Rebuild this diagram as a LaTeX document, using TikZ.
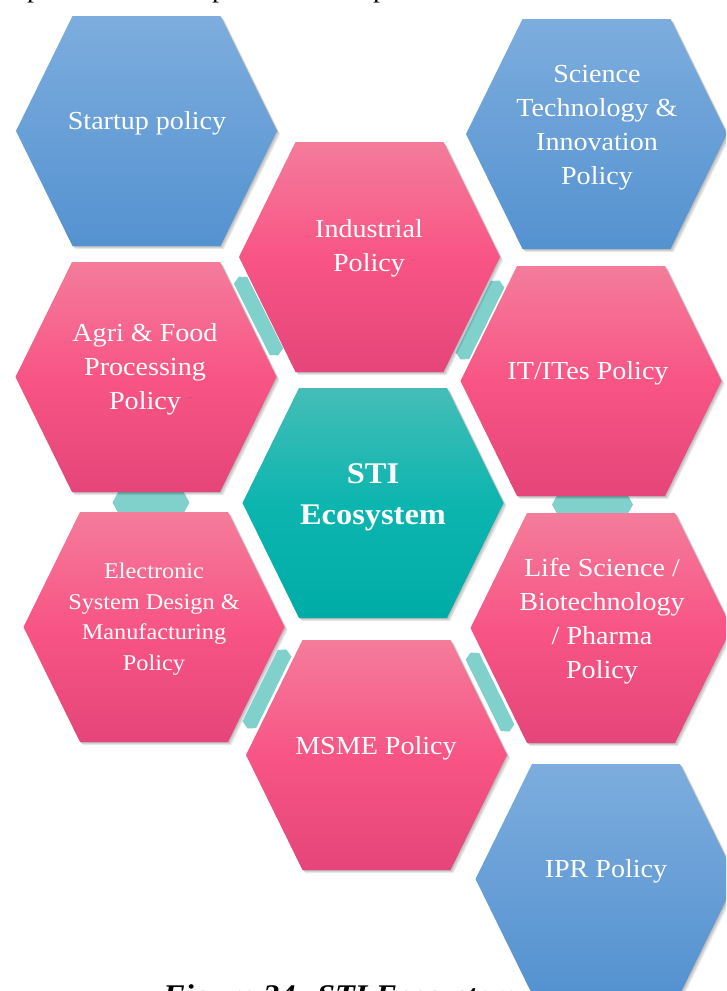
\documentclass[tikz,border=0pt]{standalone}
\usepackage{fontspec}
\setmainfont{Liberation Serif}[FakeStretch=1.08]
\definecolor{blueTop}{HTML}{7DADDE}
\definecolor{blueBot}{HTML}{5492D0}
\definecolor{pinkTop}{HTML}{F47C9B}
\definecolor{pinkMid}{HTML}{F85585}
\definecolor{pinkBot}{HTML}{E5457A}
\definecolor{tealTop}{HTML}{45BDB7}
\definecolor{tealMid}{HTML}{0DB5AF}
\definecolor{tealBot}{HTML}{00ACA7}
\definecolor{linkTeal}{HTML}{80D0CC}
\newcommand\hexshape{(-130.5,0) -- (-74,-115) -- (74,-115) -- (130.5,0) -- (74,115) -- (-74,115) -- cycle}
% hexagon cell: style, centre x, centre y
\newcommand\hexcell[3]{%
  \foreach \k in {0.8,1.6,2.4,3.2}{\fill[softshadow, shift={(#2+\k,#3-\k)}] (-130.5,0) -- (-74,-115) -- (74,-115) -- (130.5,0) -- (74,115) -- (-74,115) -- cycle;}%
  \path[#1, shift={(#2,#3)}] (-130.5,0) -- (-74,-115) -- (74,-115) -- (130.5,0) -- (74,115) -- (-74,115) -- cycle;}
% connector bar: centre x, centre y, angle, half length, half thickness
\newcommand\linkbar[5]{\path[linkcell, shift={(#1,#2)}, rotate=#3] (-#4,0) -- (-#4+0.55*#5,#5) -- (#4-0.55*#5,#5) -- (#4,0) -- (#4-0.55*#5,-#5) -- (-#4+0.55*#5,-#5) -- cycle;}
\newcommand\tcell[1]{\begin{tabular}[t]{@{}c@{}}#1\end{tabular}}
\tikzset{
  softshadow/.style={black, opacity=0.07},
  cell/.style={draw=none},
  bluecell/.style={cell, top color=blueTop, bottom color=blueBot},
  pinkcell/.style={cell, top color=pinkTop, bottom color=pinkBot, middle color=pinkMid},
  corecell/.style={cell, top color=tealTop, bottom color=tealBot, middle color=tealMid},
  linkcell/.style={fill=linkTeal, draw=none},
  lbl/.style={text=white, inner sep=0pt, anchor=base, font=\fontsize{26}{34}\selectfont},
  smalllbl/.style={lbl, font=\fontsize{22.5}{30.5}\selectfont},
  corelbl/.style={lbl, font=\bfseries\fontsize{30}{41}\selectfont},
  captionlbl/.style={inner sep=0pt, anchor=base west, font=\bfseries\itshape\fontsize{30}{36}\selectfont},
  cutlbl/.style={inner sep=0pt, anchor=base west, font=\fontsize{26}{34}\selectfont}
}
\begin{document}
\begin{tikzpicture}[x=1pt, y=1pt]
\useasboundingbox (0,0) rectangle (726,-991);
\clip (0,0) rectangle (726,-991);
\fill[white] (0,0) rectangle (726,-991);
% cut-off line of text above the figure
\node[cutlbl] (cut1) at (27,2.5) {p};
\node[cutlbl] (cut2) at (212,2.5) {p};
\node[cutlbl] (cut3) at (373,2.5) {p};
% connector bars behind the cells
\linkbar{258.5}{-316}{-63.4}{44}{7.5}
\linkbar{480}{-320}{63.8}{44}{7.5}
\linkbar{151}{-502.5}{0}{38.5}{10.5}
\linkbar{592.5}{-504.5}{0}{40.5}{10.5}
\linkbar{267}{-689}{63.8}{44}{7.5}
\linkbar{490}{-692}{-63.8}{44}{7.5}
% caption
\node[captionlbl] (caption) at (163,-1005) {Figure 24: STI Ecosystem};
% main hexagons
\hexcell{bluecell}{146.5}{-131}
\hexcell{bluecell}{596.5}{-134}
\hexcell{pinkcell}{369.5}{-257}
\hexcell{pinkcell}{146}{-377}
\hexcell{pinkcell}{591}{-381}
\hexcell{corecell}{373}{-503}
\hexcell{pinkcell}{154}{-627}
\hexcell{pinkcell}{601}{-628}
\hexcell{pinkcell}{376.5}{-755}
\hexcell{bluecell}{606}{-879}
% labels
\node[lbl] (startup) at (147,-129) {\tcell{Startup policy}};
\node[lbl] (sti) at (597,-82) {\tcell{Science\\Technology \&\\Innovation\\Policy}};
\node[lbl] (industrial) at (369,-237) {\tcell{Industrial\\Policy}};
\node[lbl] (agri) at (145,-341) {\tcell{Agri \& Food\\Processing\\Policy}};
\node[lbl] (it) at (588,-379) {\tcell{IT/ITes Policy}};
\node[corelbl] (core) at (373,-483) {\tcell{STI\\Ecosystem}};
\node[smalllbl] (esdm) at (154,-578.5) {\tcell{Electronic\\System Design \&\\Manufacturing\\Policy}};
\node[lbl] (life) at (602,-576) {\tcell{Life Science /\\Biotechnology\\/ Pharma\\Policy}};
\node[lbl] (msme) at (376,-754) {\tcell{MSME Policy}};
\node[lbl] (ipr) at (606,-877) {\tcell{IPR Policy}};
\end{tikzpicture}
\end{document}
